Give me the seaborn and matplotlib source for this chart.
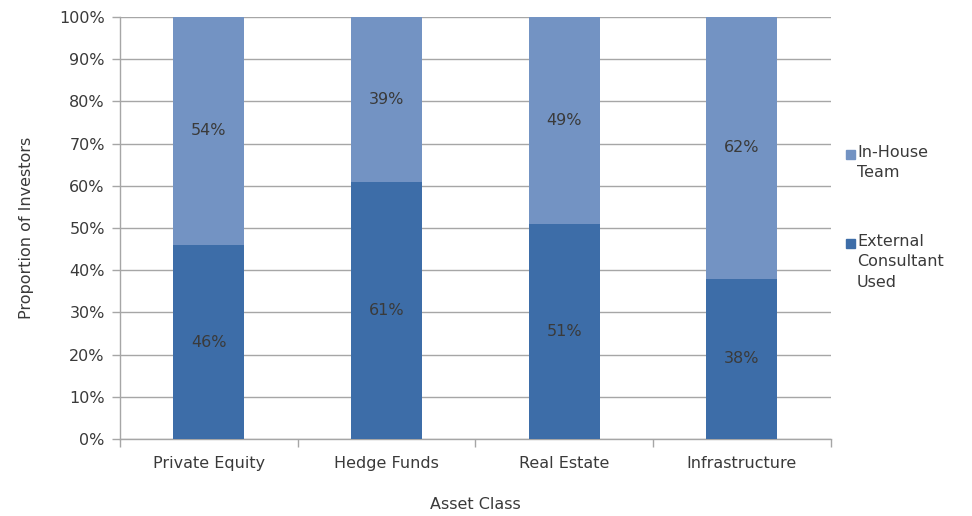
import matplotlib
matplotlib.use("Agg")
import matplotlib.pyplot as plt
import seaborn as sns
import pandas as pd
from matplotlib.patches import Rectangle

categories = ["Private Equity", "Hedge Funds", "Real Estate", "Infrastructure"]
external = [46, 61, 51, 38]
in_house = [54, 39, 49, 62]
series_labels = ["In-House\nTeam", "External\nConsultant\nUsed"]
yticks = list(range(0, 101, 10))

dark = "#3D6DA8"
light = "#7393C3"
grid_c = "#A6A6A6"
text_c = "#3A3A3A"
fs = 11.5

sns.set_theme(style="white")
plt.rcParams["font.family"] = ["DejaVu Sans"]

df = pd.DataFrame({"cat": categories, "ext": external, "inh": in_house})
df["total"] = df["ext"] + df["inh"]

fig = plt.figure(figsize=(9.72, 5.16), dpi=100)
ax = fig.add_axes([0.1235, 0.149, 0.731, 0.818])

sns.barplot(data=df, x="cat", y="total", color=light, width=0.4,
            saturation=1, linewidth=0, ax=ax, zorder=3)
sns.barplot(data=df, x="cat", y="ext", color=dark, width=0.4,
            saturation=1, linewidth=0, ax=ax, zorder=3)

for i, (e, h) in enumerate(zip(external, in_house)):
    ax.text(i, e / 2, f"{e}%", ha="center", va="center", fontsize=fs,
            color=text_c, zorder=4)
    ax.text(i, e + h / 2, f"{h}%", ha="center", va="center", fontsize=fs,
            color=text_c, zorder=4)

ax.set_ylim(0, 100)
ax.set_xlim(-0.5, len(categories) - 0.5)
ax.set_yticks(yticks)
ax.set_yticklabels([f"{t}%" for t in yticks], fontsize=fs, color=text_c)
ax.yaxis.grid(True, color=grid_c, linewidth=1)
ax.set_axisbelow(True)
ax.tick_params(axis="y", length=6, width=1, color=grid_c, pad=5, left=True)
ax.set_xticks(range(len(categories)))
ax.set_xticklabels(categories, fontsize=fs, color=text_c)
ax.tick_params(axis="x", which="major", length=0, pad=12)
ax.set_xticks([i - 0.5 for i in range(len(categories) + 1)], minor=True)
ax.tick_params(axis="x", which="minor", length=6, width=1, color=grid_c,
               bottom=True)

for s in ["top", "right"]:
    ax.spines[s].set_visible(False)
for s in ["left", "bottom"]:
    ax.spines[s].set_color(grid_c)
    ax.spines[s].set_linewidth(1)

ax.set_xlabel("Asset Class", fontsize=fs, color=text_c, labelpad=19)
ax.set_ylabel("Proportion of Investors", fontsize=fs, color=text_c, labelpad=18)

# legend drawn in figure pixels
W, H = 972, 516
entries = [(series_labels[0], light, 145), (series_labels[1], dark, 234)]
for label, col, ytop in entries:
    fig.patches.append(Rectangle((846 / W, 1 - (ytop + 14) / H), 9 / W, 9 / H,
                                 transform=fig.transFigure, color=col))
    fig.text(857 / W, 1 - ytop / H, label, ha="left", va="top", fontsize=fs,
             color=text_c, linespacing=1.45)

fig.savefig("out.png", dpi=100)
